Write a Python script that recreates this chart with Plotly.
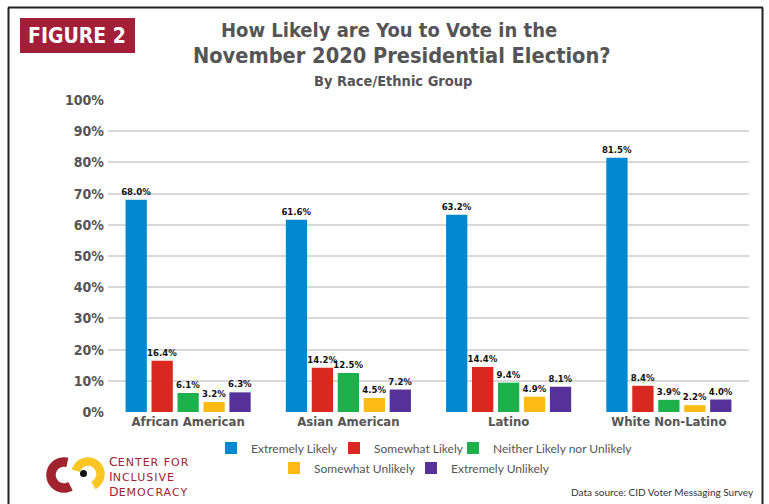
import numpy as np
import plotly.graph_objects as go

categories = ["African American", "Asian American", "Latino", "White Non-Latino"]
series_names = ["Extremely Likely", "Somewhat Likely", "Neither Likely nor Unlikely",
                "Somewhat Unlikely", "Extremely Unlikely"]
extremely_likely = [68.0, 61.6, 63.2, 81.5]
somewhat_likely = [16.4, 14.2, 14.4, 8.4]
neither = [6.1, 12.5, 9.4, 3.9]
somewhat_unlikely = [3.2, 4.5, 4.9, 2.2]
extremely_unlikely = [6.3, 7.2, 8.1, 4.0]
y_ticks = [0, 10, 20, 30, 40, 50, 60, 70, 80, 90, 100]

series_values = [extremely_likely, somewhat_likely, neither, somewhat_unlikely, extremely_unlikely]
colors = ["#0288D1", "#D9281F", "#1DB14B", "#FDBB14", "#56319A"]

BOLD = "DejaVu Sans Condensed, Liberation Sans Narrow, sans-serif"
REG = "Lato, Open Sans, sans-serif"
W, H = 769, 504
ML, MR, MT, MB = 108, 20, 100, 92
PW, PH = W - ML - MR, H - MT - MB


def px(x):
    return (x - ML) / PW


def py(y):
    return (H - MB - y) / PH


legend_ids = ["legend", "legend2", "legend3", "legend4", "legend5"]
# legend text start (px) and row centre (px)
legend_text_x = [251, 374, 493, 314, 451]
legend_row_y = [448, 448, 448, 468, 468]

fig = go.Figure()
for name, vals, col, lg in zip(series_names, series_values, colors, legend_ids):
    fig.add_trace(go.Bar(
        x=categories, y=vals, name=name, marker=dict(color=col, line=dict(width=0)),
        texttemplate="%{y:.1f}%", textposition="outside", constraintext="none",
        textfont=dict(family=BOLD, size=9.5, color="#111111", weight="bold"),
        cliponaxis=False, legend=lg,
    ))

shapes = []
# frame
for (x0, y0, x1, y1) in [(8.5, 7.5, 8.5, 510), (8, 7.5, 763, 7.5), (762.5, 7.5, 762.5, 510)]:
    shapes.append(dict(type="line", xref="paper", yref="paper", x0=px(x0), y0=py(y0),
                       x1=px(x1), y1=py(y1), line=dict(color="#222222", width=2)))
# FIGURE 2 box
shapes.append(dict(type="rect", xref="paper", yref="paper", x0=px(20), y0=py(18), x1=px(135), y1=py(53),
                   fillcolor="#A31F37", line=dict(width=0), layer="above"))


def arc_path(cx, cy, r, a0, a1, n=40):
    t = np.radians(np.linspace(a0, a1, n))
    xs = cx + r * np.cos(t)
    ys = cy - r * np.sin(t)
    return "M" + " L".join(f"{px(a):.5f},{py(b):.5f}" for a, b in zip(xs, ys))


# logo arcs
shapes.append(dict(type="path", xref="paper", yref="paper", path=arc_path(64, 475, 13, 75, 300),
                   line=dict(color="#A1232E", width=9.5), layer="above"))
shapes.append(dict(type="path", xref="paper", yref="paper", path=arc_path(88, 474, 12.5, 165, -65),
                   line=dict(color="#F9C623", width=8.5), layer="above"))
shapes.append(dict(type="circle", xref="paper", yref="paper", x0=px(80), y0=py(470), x1=px(87), y1=py(477),
                   fillcolor="#111111", line=dict(width=0), layer="above"))

logo_text = "<br>".join(
    f"<span style='font-size:12.5px'>{w[0]}</span>"
    f"<span style='font-size:11px;letter-spacing:1px'>{w[1:]}</span>"
    for w in ["CENTER FOR", "INCLUSIVE", "DEMOCRACY"]
)

annotations = [
    dict(text="FIGURE 2", x=px(77), y=py(35.5), font=dict(family=BOLD, size=21, color="white", weight="bold")),
    dict(text="How Likely are You to Vote in the", x=px(388.5), y=py(30),
         font=dict(family=BOLD, size=20, color="#555555", weight="bold")),
    dict(text="November 2020 Presidential Election?", x=px(401.5), y=py(55),
         font=dict(family=BOLD, size=21.6, color="#555555", weight="bold")),
    dict(text="By Race/Ethnic Group", x=px(393), y=py(81),
         font=dict(family=BOLD, size=14.5, color="#555555", weight="bold")),
    dict(text="Data source: CID Voter Messaging Survey", x=px(756), y=py(492), xanchor="right",
         font=dict(family=REG, size=10, color="#333333")),
    dict(text=logo_text, x=px(107), y=py(476), xanchor="left", align="left",
         font=dict(family="DejaVu Sans, sans-serif", size=11.5, color="#A1232E")),
]
for a in annotations:
    a.update(xref="paper", yref="paper", showarrow=False)
    a.setdefault("xanchor", "center")
    a.setdefault("yanchor", "middle")

legend_layouts = {}
for lg, tx, ry in zip(legend_ids, legend_text_x, legend_row_y):
    legend_layouts[lg] = dict(orientation="h", x=px(tx - 40), xanchor="left", y=py(ry), yanchor="middle",
                              font=dict(family=REG, size=12, color="#555555"), bgcolor="rgba(0,0,0,0)",
                              itemclick=False, itemdoubleclick=False)

fig.update_layout(
    width=W, height=H, margin=dict(l=ML, r=MR, t=MT, b=MB),
    paper_bgcolor="white", plot_bgcolor="white",
    barmode="group", bargap=0.19, bargroupgap=0.18,
    font=dict(family=BOLD, color="#555555"),
    xaxis=dict(showline=False, ticks="", tickfont=dict(size=13, color="#555555", weight="bold"),
               showgrid=False),
    yaxis=dict(range=[0, 100], tickvals=y_ticks, ticktext=[f"{v}%" for v in y_ticks],
               showgrid=True, gridcolor="#D9D9D9", gridwidth=1.5, zeroline=False, showline=False,
               tickfont=dict(size=14, color="#555555", weight="bold"), ticks="", ticklabelstandoff=3),
    shapes=shapes, annotations=annotations, showlegend=True,
    **legend_layouts,
)
fig.write_html("out.html", config={"displayModeBar": False},
               post_script="document.body.style.margin='0';document.body.style.overflow='hidden';")
